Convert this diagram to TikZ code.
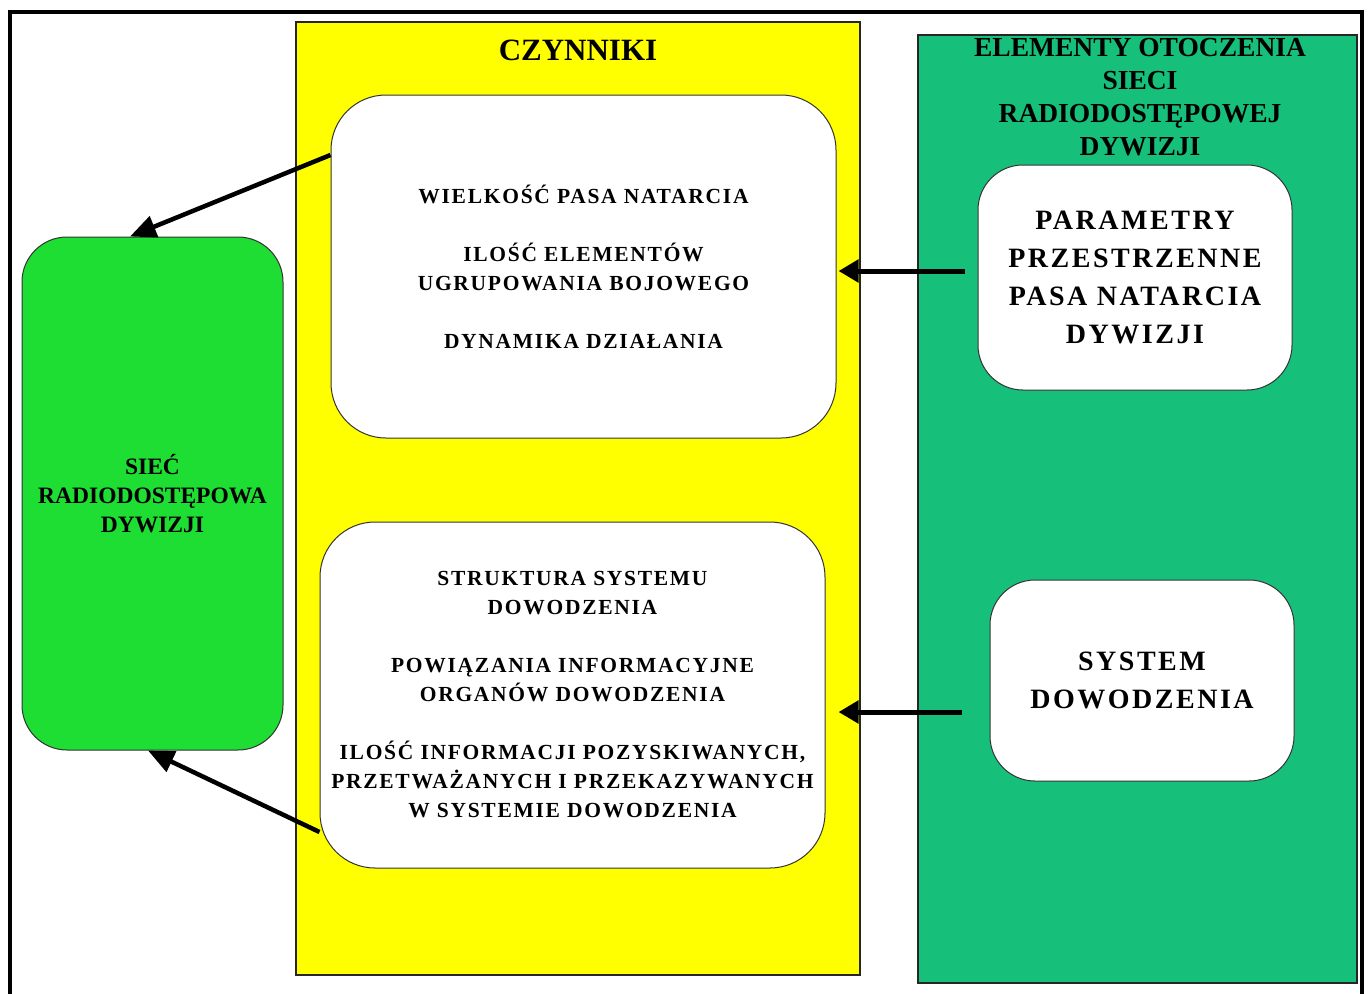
\documentclass[tikz,border=0pt]{standalone}
\usepackage{fontspec}
\setmainfont{Liberation Serif}
\newfontfamily\listfont[LetterSpace=8]{Liberation Serif}
\newfontfamily\cardfont[LetterSpace=9]{Liberation Serif}
\usetikzlibrary{arrows.meta,calc}
\definecolor{panelyellow}{RGB}{255,255,0}
\definecolor{panelteal}{RGB}{22,192,122}
\definecolor{netgreen}{RGB}{30,222,52}
\begin{document}
\begin{tikzpicture}[x=1pt,y=-1pt,
  panel/.style={draw=black!85, line width=1.2pt, inner sep=0pt},
  card/.style={draw=black!80, line width=1pt, fill=white, rounded corners=#1,
    inner sep=0pt, align=center},
  listtext/.style={font=\listfont\bfseries\fontsize{21.5}{29}\selectfont},
  cardtext/.style={font=\cardfont\bfseries\fontsize{28}{38}\selectfont},
  flow/.style={line width=4.5pt, -{Triangle[length=26pt,width=22pt]}},
  feed/.style={line width=5pt, -{Triangle[length=20pt,width=22pt]}},
]
\useasboundingbox (0,0) rectangle (1370,993);
\fill[white] (0,0) rectangle (1370,993);

% outer frame (its bottom edge lies below the page)
\draw[line width=4pt] (10,1010) -- (10,12) -- (1362,12) -- (1362,1010);

% panels
\node[panel, fill=panelyellow, minimum width=564pt, minimum height=953pt] (factors) at (578,498.5) {};
\node[panel, fill=panelteal, minimum width=439pt, minimum height=948pt] (env) at (1137.5,509) {};

\node[font=\bfseries\fontsize{31}{36}\selectfont] (ftitle) at (578,50) {CZYNNIKI};
\node[align=center, font=\bfseries\fontsize{27.5}{33}\selectfont] (etitle) at (1140,97.5)
  {ELEMENTY OTOCZENIA\\SIECI\\RADIODOSTĘPOWEJ\\DYWIZJI};

% left: the access network
\node[card=45pt, fill=netgreen, minimum width=261pt, minimum height=513pt,
  font=\bfseries\fontsize{23.5}{29}\selectfont] (net) at (152.5,493.5)
  {SIEĆ\\RADIODOSTĘPOWA\\DYWIZJI};

% factor groups
\node[card=55pt, minimum width=505pt, minimum height=343pt, listtext] (f1) at (583.5,266.5)
  {WIELKOŚĆ PASA NATARCIA\\[29pt]ILOŚĆ ELEMENTÓW\\UGRUPOWANIA BOJOWEGO\\[29pt]DYNAMIKA DZIAŁANIA};
\node[card=55pt, minimum width=505pt, minimum height=346pt, listtext] (f2) at (572.5,695)
  {STRUKTURA SYSTEMU\\DOWODZENIA\\[29pt]POWIĄZANIA INFORMACYJNE\\ORGANÓW DOWODZENIA\\[29pt]ILOŚĆ INFORMACJI POZYSKIWANYCH,\\PRZETWAŻANYCH I PRZEKAZYWANYCH\\W SYSTEMIE DOWODZENIA};

% environment elements
\node[card=45pt, minimum width=314pt, minimum height=225pt, cardtext] (space) at (1135,277.5)
  {PARAMETRY\\PRZESTRZENNE\\PASA NATARCIA\\DYWIZJI};
\node[card=45pt, minimum width=304pt, minimum height=201pt, cardtext] (cmd) at (1142,680.5)
  {SYSTEM\\DOWODZENIA};

% connectors
\coordinate (spaceout) at ($([yshift=6.5pt]space.west)+(-13,0)$);
\coordinate (cmdout) at ($([yshift=-31.5pt]cmd.west)+(-28,0)$);
\draw[flow] ([yshift=111.5pt]f1.west) -- ([xshift=-22.5pt]net.north);
\draw[flow] ([yshift=-137pt]f2.west) -- ([xshift=-4.5pt]net.south);
\draw[feed] (spaceout) -- ($([yshift=-4.5pt]f1.east)+(2,0)$);
\draw[feed] (cmdout) -- ($([yshift=-17pt]f2.east)+(13,0)$);
\end{tikzpicture}
\end{document}
